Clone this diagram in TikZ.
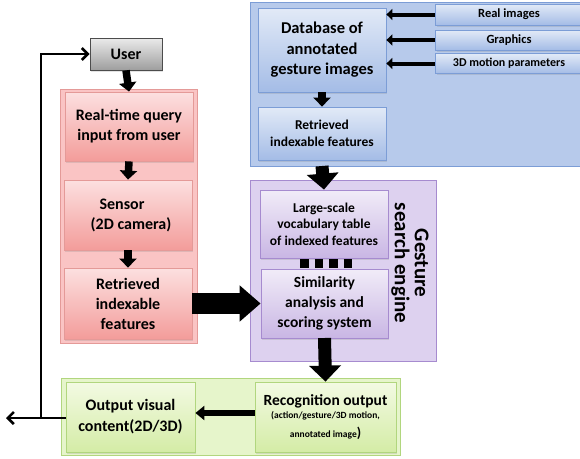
\documentclass[tikz,border=0pt]{standalone}
\usepackage{fontspec}
\setmainfont{Carlito}
\usetikzlibrary{arrows.meta,calc,shadows}

\definecolor{redbd}{HTML}{E49A98}
\definecolor{redtop}{HTML}{FCE0E0}
\definecolor{redbot}{HTML}{F39C9A}
\definecolor{redbg}{HTML}{FAC4C4}
\definecolor{bluebd}{HTML}{7C9DD6}
\definecolor{bluetop}{HTML}{E2EAF7}
\definecolor{bluebot}{HTML}{A4BCE6}
\definecolor{bluebg}{HTML}{B7CAEB}
\definecolor{purpbd}{HTML}{A68BCF}
\definecolor{purptop}{HTML}{F1ECF8}
\definecolor{purpbot}{HTML}{C9B6E4}
\definecolor{purpbg}{HTML}{DDD1EF}
\definecolor{grnbd}{HTML}{B1D67E}
\definecolor{grntop}{HTML}{F3FAE3}
\definecolor{grnbot}{HTML}{D4ECA6}
\definecolor{grnbg}{HTML}{E6F5CB}

\tikzset{
  panel/.style={draw=#1bd, fill=#1bg, line width=0.8pt},
  card/.style={draw=#1bd, line width=0.8pt, top color=#1top, bottom color=#1bot,
    align=center, font=\bfseries, inner sep=2pt,
    drop shadow={opacity=0.22, shadow xshift=1pt, shadow yshift=-1.5pt}},
  fs/.style 2 args={font=\bfseries\fontsize{#1}{#2}\selectfont},
  thin arrow/.style={line width=4pt, -{Triangle[width=11pt,length=6pt]}},
  mid arrow/.style={line width=7.5pt, -{Triangle[width=17pt,length=9pt]}},
  big arrow/.style={line width=13pt, -{Triangle[width=31pt,length=16pt]}},
  feedback/.style={line width=2.6pt, -{Straight Barb[length=6pt,width=12pt]}},
}

\begin{document}
\begin{tikzpicture}[x=1pt,y=-1pt]
\useasboundingbox (0,0) rectangle (580,458);

% background panels
\draw[panel=red]  (60,89)  rectangle (197,343);
\draw[panel=blue] (250,2)  rectangle (582,166);
\draw[panel=purp] (250,180) rectangle (436,361);
\draw[panel=grn]  (61,378) rectangle (400,455);

% user
\node[draw=black!70, line width=0.8pt, top color=black!8, bottom color=black!38,
  drop shadow={opacity=0.22, shadow xshift=1pt, shadow yshift=-1.5pt},
  minimum width=72pt, minimum height=32pt, fs={16}{19}] (user) at (126,54) {User};

% query side (red)
\node[card=red, minimum width=128pt, minimum height=69pt, fs={16}{20}] (query) at (129,126.5)
  {Real-time query\\input from user};
\node[card=red, minimum width=128pt, minimum height=70pt, fs={16}{20}] (sensor) at (128,215)
  {\hspace*{-12pt}Sensor\\\hspace*{6pt}(2D camera)};
\node[card=red, minimum width=128pt, minimum height=71pt, fs={16}{20}] (rfeat) at (128,303.5)
  {Retrieved\\indexable\\features};

% database side (blue)
\node[card=blue, minimum width=128pt, minimum height=84pt, fs={16.5}{20.5}] (db) at (322,50)
  {Database of\\annotated\\gesture images};
\node[card=blue, minimum width=128pt, minimum height=53pt, fs={13.5}{17}] (bfeat) at (322,133.5)
  {Retrieved\\indexable features};
\node[card=blue, minimum width=147pt, minimum height=21pt, fs={12.5}{14}] (real) at (509,14.5) {Real images};
\node[card=blue, minimum width=147pt, minimum height=20pt, fs={12.5}{14}] (gfx) at (509,40) {Graphics};
\node[card=blue, minimum width=147pt, minimum height=20pt, fs={12}{14}] (mot) at (509,63.5) {3D motion parameters};

% search engine (purple)
\node[card=purp, minimum width=128pt, minimum height=68pt, fs={13.5}{16.5}] (vocab) at (324,224)
  {Large-scale\\vocabulary table\\of indexed features};
\node[card=purp, minimum width=127pt, minimum height=69pt, fs={15.5}{20}] (sim) at (324.5,303.5)
  {Similarity\\analysis and\\scoring system};
\node[rotate=-90, align=center, fs={21}{20}] (eng) at (410,263) {Gesture\\search engine};

% output (green)
\node[card=grn, minimum width=129pt, minimum height=70pt, fs={16}{21}] (outv) at (130.5,417)
  {Output visual\\content(2D/3D)};
\node[card=grn, minimum width=141pt, minimum height=70pt, align=center] (recog) at (325.5,417)
  {{\bfseries\fontsize{15.5}{17}\selectfont Recognition output}\\[1pt]
   {\bfseries\fontsize{9.5}{13}\selectfont (action/gesture/3D motion,}\\[6pt]
   {\bfseries\fontsize{9.5}{13}\selectfont annotated image{\fontsize{14}{13}\selectfont)}}};

% flow arrows
\draw[mid arrow] (user.south) -- (query.north);
\draw[mid arrow] (query.south) -- (sensor.north);
\draw[mid arrow] (sensor.south) -- (rfeat.north);
\draw[mid arrow] (db.south) -- (bfeat.north);
\draw[thin arrow] (real.west) -- (db.east |- real.west);
\draw[thin arrow] (gfx.west) -- (db.east |- gfx.west);
\draw[thin arrow] (mot.west) -- (db.east |- mot.west);
\draw[big arrow] (bfeat.south |- 0,166) -- (vocab.north);
\draw[line width=21pt, -{Triangle[width=35pt,length=21pt]}] (rfeat.east) -- (sim.west);
\draw[big arrow] (sim.south |- 0,338) -- (recog.north);
\draw[line width=6pt, -{Triangle[width=14pt,length=9pt]}] (recog.west |- 0,413) -- (outv.east |- 0,413);

% link between vocabulary table and scoring system
\draw[line width=9pt, dash pattern=on 8.5pt off 6pt]
  ($(vocab.south)+(-24,5.5)$) -- ($(vocab.south)+(31,5.5)$);

% feedback loop back to the user
\coordinate (lout) at (6,418);
\coordinate (corner) at (41,418);
\draw[feedback] (outv.west |- corner) -- (lout);
\draw[feedback] (corner) -- (41,54) -- (user.west);
\end{tikzpicture}
\end{document}
